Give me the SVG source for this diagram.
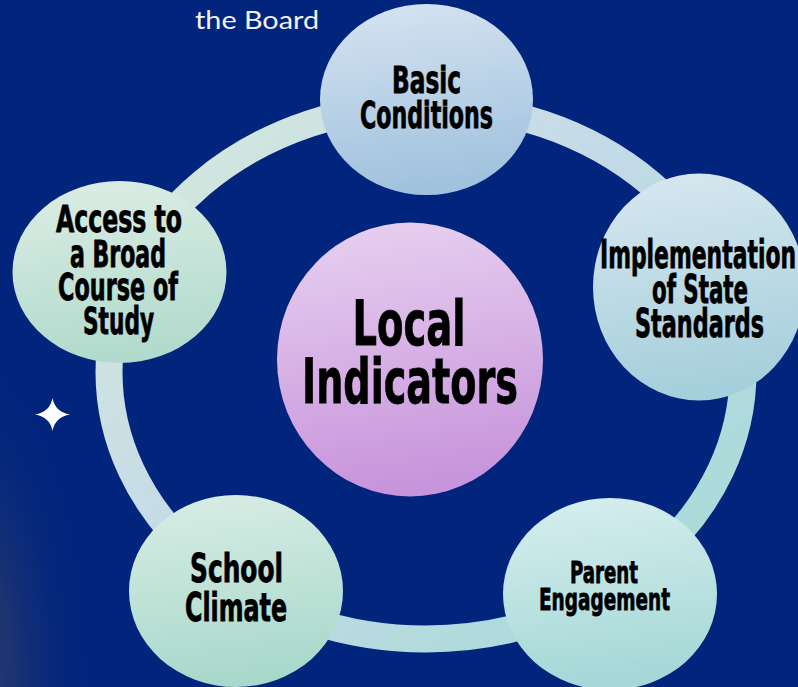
<svg xmlns="http://www.w3.org/2000/svg" width="798" height="687" viewBox="0 0 798 687">
  <defs>
    <radialGradient id="glow" cx="-40" cy="680" r="260" gradientUnits="userSpaceOnUse" gradientTransform="translate(-40 680) scale(0.5 1.3) translate(40 -680)">
      <stop offset="0" stop-color="#2c3d72" stop-opacity="1"/>
      <stop offset="0.4" stop-color="#24376f" stop-opacity="0.8"/>
      <stop offset="1" stop-color="#01257d" stop-opacity="0"/>
    </radialGradient>
    <linearGradient id="ringGrad" gradientUnits="userSpaceOnUse" x1="150" y1="120" x2="650" y2="650">
      <stop offset="0" stop-color="#d4e9dc"/>
      <stop offset="0.45" stop-color="#c4dae8"/>
      <stop offset="1" stop-color="#a8dad7"/>
    </linearGradient>
    <linearGradient id="gCenter" x1="0" y1="0" x2="0.15" y2="1">
      <stop offset="0" stop-color="#e8d2f0"/>
      <stop offset="1" stop-color="#c895dc"/>
    </linearGradient>
    <linearGradient id="gBasic" x1="0" y1="0" x2="0.15" y2="1">
      <stop offset="0" stop-color="#d6e4f1"/>
      <stop offset="1" stop-color="#a1c2de"/>
    </linearGradient>
    <linearGradient id="gImpl" x1="0" y1="0" x2="0.15" y2="1">
      <stop offset="0" stop-color="#d8e8f0"/>
      <stop offset="1" stop-color="#a6cfdc"/>
    </linearGradient>
    <linearGradient id="gParent" x1="0" y1="0" x2="0.15" y2="1">
      <stop offset="0" stop-color="#d8eeef"/>
      <stop offset="1" stop-color="#a5d8d7"/>
    </linearGradient>
    <linearGradient id="gSchool" x1="0" y1="0" x2="0.15" y2="1">
      <stop offset="0" stop-color="#d9ede6"/>
      <stop offset="1" stop-color="#a9d9cb"/>
    </linearGradient>
    <linearGradient id="gAccess" x1="0" y1="0" x2="0.15" y2="1">
      <stop offset="0" stop-color="#ddede5"/>
      <stop offset="1" stop-color="#b2dbcd"/>
    </linearGradient>
  </defs>
  <style>
    .lbl { font-family: "DejaVu Sans", "Liberation Sans", sans-serif; font-weight: bold; font-stretch: condensed; fill: #000; stroke: #000; stroke-width: 0.8; text-anchor: middle; }
    .title { font-family: Lato, "Open Sans", sans-serif; font-weight: normal; fill: #f2f2f2; }
  </style>

  <rect x="0" y="0" width="798" height="687" fill="#01257d"/>
  <rect x="0" y="0" width="798" height="687" fill="url(#glow)"/>

  <text class="title" x="195" y="29" font-size="25" textLength="124" lengthAdjust="spacingAndGlyphs">the Board</text>

  <path d="M52.5,398 Q55,412 70,414.5 Q55,417 52.5,431 Q50,417 35,414.5 Q50,412 52.5,398Z" fill="#ffffff"/>

  <g id="connectors">
    <ellipse cx="426" cy="372" rx="317" ry="267" fill="none" stroke="url(#ringGrad)" stroke-width="27"/>
  </g>

  <g id="node-center">
    <ellipse cx="410" cy="359.5" rx="133" ry="137" fill="url(#gCenter)"/>
    <text class="lbl" x="409" y="345" font-size="62" textLength="113" lengthAdjust="spacingAndGlyphs">Local</text>
    <text class="lbl" x="410" y="403" font-size="62" textLength="216" lengthAdjust="spacingAndGlyphs">Indicators</text>
  </g>

  <g id="node-basic">
    <ellipse cx="426.5" cy="99.5" rx="106.5" ry="95.5" fill="url(#gBasic)"/>
    <text class="lbl" x="426.5" y="93" font-size="38" textLength="69" lengthAdjust="spacingAndGlyphs">Basic</text>
    <text class="lbl" x="426.5" y="128" font-size="38" textLength="133" lengthAdjust="spacingAndGlyphs">Conditions</text>
  </g>

  <g id="node-implementation">
    <ellipse cx="699" cy="287" rx="106" ry="113.5" fill="url(#gImpl)"/>
    <text class="lbl" x="698" y="268" font-size="39" textLength="196" lengthAdjust="spacingAndGlyphs">Implementation</text>
    <text class="lbl" x="700" y="303" font-size="39" textLength="96" lengthAdjust="spacingAndGlyphs">of State</text>
    <text class="lbl" x="699.5" y="337" font-size="39" textLength="129" lengthAdjust="spacingAndGlyphs">Standards</text>
  </g>

  <g id="node-parent">
    <ellipse cx="610" cy="594" rx="107" ry="96" fill="url(#gParent)"/>
    <text class="lbl" x="604" y="583" font-size="31" textLength="68" lengthAdjust="spacingAndGlyphs">Parent</text>
    <text class="lbl" x="604.5" y="610" font-size="31" textLength="131" lengthAdjust="spacingAndGlyphs">Engagement</text>
  </g>

  <g id="node-school">
    <ellipse cx="236" cy="591" rx="107" ry="96" fill="url(#gSchool)"/>
    <text class="lbl" x="236.5" y="582" font-size="39" textLength="93" lengthAdjust="spacingAndGlyphs">School</text>
    <text class="lbl" x="236" y="621" font-size="39" textLength="102" lengthAdjust="spacingAndGlyphs">Climate</text>
  </g>

  <g id="node-access">
    <ellipse cx="119.5" cy="272" rx="107" ry="91" fill="url(#gAccess)"/>
    <text class="lbl" x="119" y="232" font-size="37" textLength="126" lengthAdjust="spacingAndGlyphs">Access to</text>
    <text class="lbl" x="118" y="267" font-size="37" textLength="96" lengthAdjust="spacingAndGlyphs">a Broad</text>
    <text class="lbl" x="118" y="300" font-size="37" textLength="120" lengthAdjust="spacingAndGlyphs">Course of</text>
    <text class="lbl" x="118.5" y="334" font-size="37" textLength="71" lengthAdjust="spacingAndGlyphs">Study</text>
  </g>
</svg>
